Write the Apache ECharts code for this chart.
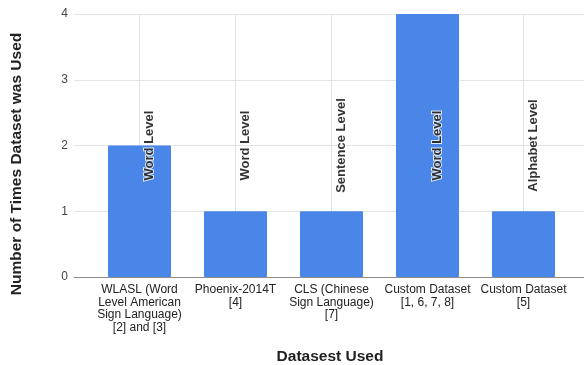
<!DOCTYPE html>
<html>
<head>
<meta charset="utf-8">
<script src="https://cdn.jsdelivr.net/npm/echarts@6/dist/echarts.min.js"></script>
<style>
  html, body { margin: 0; padding: 0; background: #fff; }
  #chart { width: 584px; height: 365px; }
</style>
</head>
<body>
<div id="chart"></div>
<script>
// Datasets and how often each was used
const categories = [
  'WLASL (Word\nLevel American\nSign Language)\n[2] and [3]',
  'Phoenix-2014T\n[4]',
  'CLS (Chinese\nSign Language)\n[7]',
  'Custom Dataset\n[1, 6, 7, 8]',
  'Custom Dataset\n[5]'
];
const timesUsed = [2, 1, 1, 4, 1];
const levels = ['Word Level', 'Word Level', 'Sentence Level', 'Word Level', 'Alphabet Level'];
const yTicks = [0, 1, 2, 3, 4];

const yMin = yTicks[0];
const yMax = yTicks[yTicks.length - 1];
const labelY = (yMin + yMax) / 2;   // annotations sit mid-axis
const FONT = "'Liberation Sans', Arial, sans-serif";

const chart = echarts.init(document.getElementById('chart'), null, { renderer: 'canvas' });

chart.setOption({
  animation: false,
  textStyle: { fontFamily: FONT },
  grid: [
    { left: 91.5, right: 12.5, top: 14, bottom: 88, containLabel: false },
    { left: 74, right: 0, top: 14, bottom: 88, containLabel: false }
  ],
  xAxis: [
    {
      type: 'category',
      gridIndex: 0,
      data: categories,
      axisLine: { show: false },
      axisTick: { show: false },
      splitLine: { show: false },
      axisLabel: {
        interval: 0,
        margin: 6,
        fontSize: 12,
        lineHeight: 12.8,
        color: '#222',
        fontFamily: FONT
      }
    },
    {
      type: 'value',
      gridIndex: 1,
      min: 0,
      max: 1,
      axisLabel: { show: false },
      axisTick: { show: false },
      splitLine: { show: false },
      axisLine: { show: true, lineStyle: { color: '#8c8c8c', width: 1 } }
    }
  ],
  yAxis: [
    {
      type: 'value',
      gridIndex: 0,
      min: yMin,
      max: yMax,
      interval: 1,
      show: false
    },
    {
      type: 'value',
      gridIndex: 1,
      min: yMin,
      max: yMax,
      interval: 1,
      axisLine: { show: false },
      axisTick: { show: false },
      axisLabel: { margin: 6, fontSize: 12, color: '#444', fontFamily: FONT },
      splitLine: { show: true, lineStyle: { color: '#e3e3e3', width: 1 } }
    }
  ],
  series: [
    {
      type: 'bar',
      xAxisIndex: 0,
      yAxisIndex: 0,
      data: timesUsed,
      barWidth: 63,
      z: 3,
      itemStyle: { color: '#4a86e8', borderRadius: 1 },
      markLine: {
        silent: true,
        z: 1,
        symbol: ['none', 'none'],
        label: { show: false },
        lineStyle: { color: '#e3e3e3', width: 1, type: 'solid' },
        emphasis: { disabled: true },
        data: categories.map(c => ({ xAxis: c }))
      }
    },
    {
      type: 'scatter',
      xAxisIndex: 0,
      yAxisIndex: 0,
      symbolSize: 0,
      silent: true,
      z: 5,
      data: categories.map((c, i) => [i, labelY]),
      label: {
        show: true,
        position: 'inside',
        rotate: 90,
        offset: [0, 10],
        fontSize: 13,
        fontWeight: 'bold',
        color: '#000',
        fontFamily: FONT,
        textBorderColor: '#fff',
        textBorderWidth: 2,
        formatter: p => levels[p.dataIndex]
      }
    }
  ],
  graphic: [
    {
      type: 'text',
      x: 17,
      y: 164,
      rotation: Math.PI / 2,
      style: {
        text: 'Number of Times Dataset was Used',
        font: "bold 15.5px " + FONT,
        fill: '#222',
        align: 'center',
        verticalAlign: 'middle'
      }
    },
    {
      type: 'text',
      x: 330,
      y: 357,
      style: {
        text: 'Datasest Used',
        font: "bold 15.5px " + FONT,
        fill: '#222',
        align: 'center',
        verticalAlign: 'middle'
      }
    }
  ]
});
</script>
</body>
</html>
